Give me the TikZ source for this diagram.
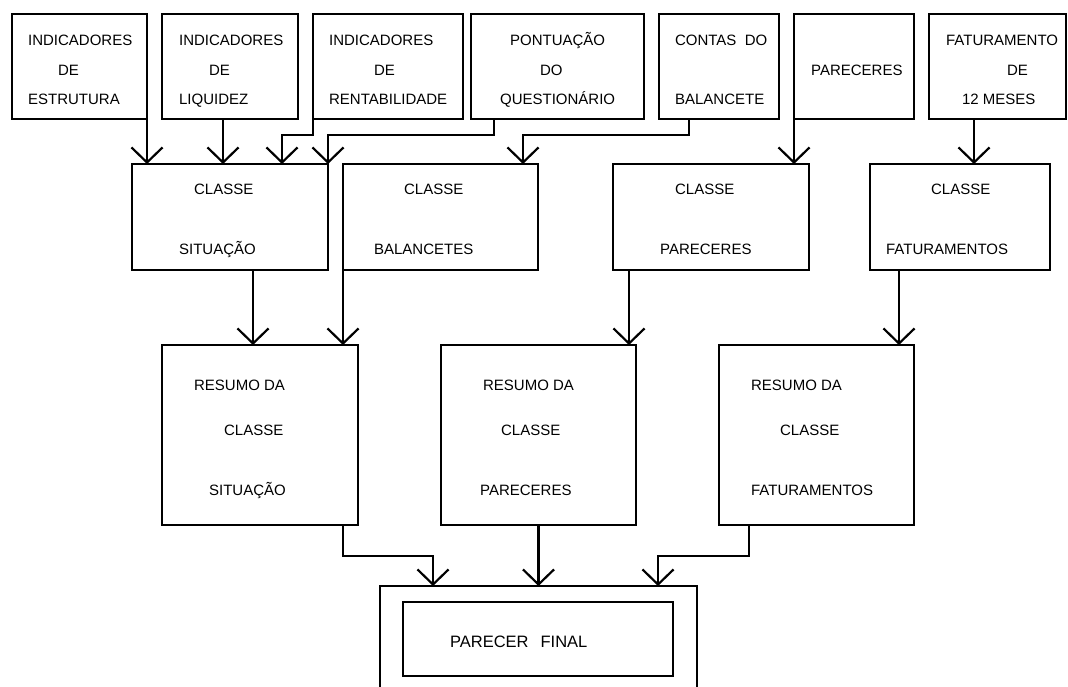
\documentclass[tikz,border=0pt]{standalone}
\usepackage{fontspec}
\setmainfont{Liberation Sans}
\usetikzlibrary{arrows.meta}

\begin{document}
\begin{tikzpicture}[x=1pt,y=-1pt,line width=2.2pt,
    box/.style={draw, rectangle, inner sep=0pt, outer sep=0pt},
    txt/.style={anchor=base west, inner sep=0pt, font=\fontsize{15}{18}\selectfont},
    arr/.style={-{Straight Barb[length=15pt,width=31pt]}}]
  \useasboundingbox (0,0) rectangle (1068,686);
  \clip (0,0) rectangle (1068,686);

  % inputs
  \node[box, minimum width=135, minimum height=105] (est) at (79.5,66.5) {};
  \node[box, minimum width=136, minimum height=105] (liq) at (230,66.5) {};
  \node[box, minimum width=150, minimum height=105] (ren) at (388,66.5) {};
  \node[box, minimum width=173, minimum height=105] (pon) at (557.5,66.5) {};
  \node[box, minimum width=120, minimum height=105] (con) at (719,66.5) {};
  \node[box, minimum width=120, minimum height=105] (par) at (854,66.5) {};
  \node[box, minimum width=137, minimum height=105] (fat) at (997.5,66.5) {};

  \node[txt] (est1) at (27,45.4) {INDICADORES};
  \node[txt] (est2) at (57,75.4) {DE};
  \node[txt] (est3) at (27,104.4) {ESTRUTURA};
  \node[txt] (liq1) at (178,45.4) {INDICADORES};
  \node[txt] (liq2) at (208,75.4) {DE};
  \node[txt] (liq3) at (178,104.4) {LIQUIDEZ};
  \node[txt] (ren1) at (328,45.4) {INDICADORES};
  \node[txt] (ren2) at (373,75.4) {DE};
  \node[txt] (ren3) at (328,104.4) {RENTABILIDADE};
  \node[txt] (pon1) at (509,45.4) {PONTUAÇÃO};
  \node[txt] (pon2) at (539,75.4) {DO};
  \node[txt] (pon3) at (499,104.4) {QUESTIONÁRIO};
  \node[txt] (con1) at (674,45.4) {CONTAS\ \ DO};
  \node[txt] (con3) at (674,104.4) {BALANCETE};
  \node[txt] (par2) at (810,75.4) {PARECERES};
  \node[txt] (fat1) at (945,45.4) {FATURAMENTO};
  \node[txt] (fat2) at (1006,75.4) {DE};
  \node[txt] (fat3) at (961,104.4) {12 MESES};

  % classes
  \node[box, minimum width=196, minimum height=106] (csit) at (230,217) {};
  \node[box, minimum width=195, minimum height=106] (cbal) at (440.5,217) {};
  \node[box, minimum width=196, minimum height=106] (cpar) at (711,217) {};
  \node[box, minimum width=180, minimum height=106] (cfat) at (960,217) {};

  \node[txt] (csit1) at (193,194.4) {CLASSE};
  \node[txt] (csit2) at (178,254.4) {SITUAÇÃO};
  \node[txt] (cbal1) at (403,194.4) {CLASSE};
  \node[txt] (cbal2) at (373,254.4) {BALANCETES};
  \node[txt] (cpar1) at (674,194.4) {CLASSE};
  \node[txt] (cpar2) at (659,254.4) {PARECERES};
  \node[txt] (cfat1) at (930,194.4) {CLASSE};
  \node[txt] (cfat2) at (885,254.4) {FATURAMENTOS};

  % resumos
  \node[box, minimum width=196, minimum height=180] (rsit) at (260,435) {};
  \node[box, minimum width=195, minimum height=180] (rpar) at (538.5,435) {};
  \node[box, minimum width=195, minimum height=180] (rfat) at (816.5,435) {};

  \node[txt] (rsit1) at (193,390.4) {RESUMO DA};
  \node[txt] (rsit2) at (223,435.4) {CLASSE};
  \node[txt] (rsit3) at (208,495.4) {SITUAÇÃO};
  \node[txt] (rpar1) at (482,390.4) {RESUMO DA};
  \node[txt] (rpar2) at (500,435.4) {CLASSE};
  \node[txt] (rpar3) at (479,495.4) {PARECERES};
  \node[txt] (rfat1) at (750,390.4) {RESUMO DA};
  \node[txt] (rfat2) at (779,435.4) {CLASSE};
  \node[txt] (rfat3) at (750,495.4) {FATURAMENTOS};

  % final
  \node[box, minimum width=317, minimum height=200] (fin) at (538.5,686) {};
  \node[box, minimum width=270, minimum height=74] (fin2) at (538,639) {};
  \node[txt, font=\fontsize{16.5}{20}\selectfont] (fin3) at (449,647.8)
    {PARECER\hspace{12pt}FINAL};

  % arrows
  \draw[arr] (est.south east) -- (est.south east |- csit.north);
  \draw[arr] ([xshift=-7pt]liq.south) -- ([xshift=-7pt]liq.south |- csit.north);
  \draw[arr] (ren.south west) -- ++(0,16) -| ([xshift=52pt]csit.north);
  \draw[arr] ([xshift=-63.5pt]pon.south) -- ++(0,16) -| (csit.north east);
  \draw[arr] ([xshift=-30pt]con.south) -- ++(0,16) -| ([xshift=82.5pt]cbal.north);
  \draw[arr] (par.south west) -- (par.south west |- cpar.north);
  \draw[arr] ([xshift=-23.5pt]fat.south) -- ([xshift=-23.5pt]fat.south |- cfat.north);

  \draw[arr] ([xshift=23pt]csit.south) -- ([xshift=23pt]csit.south |- rsit.north);
  \draw[arr] (cbal.south west) -- (cbal.south west |- rsit.north);
  \draw[arr] ([xshift=-82pt]cpar.south) -- ([xshift=-82pt]cpar.south |- rpar.north);
  \draw[arr] ([xshift=-61pt]cfat.south) -- ([xshift=-61pt]cfat.south |- rfat.north);

  \draw[arr] ([xshift=83pt]rsit.south) -- ++(0,31) -| ([xshift=-105.5pt]fin.north);
  \draw[arr] (rpar.south) -- (rpar.south |- fin.north);
  \draw[arr] ([xshift=-67.5pt]rfat.south) -- ++(0,31) -| ([xshift=119.5pt]fin.north);
\end{tikzpicture}
\end{document}
